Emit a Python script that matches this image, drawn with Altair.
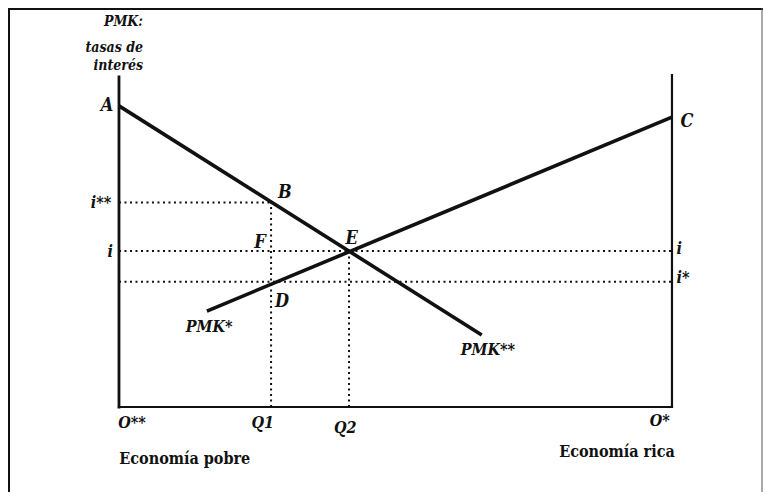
import altair as alt
import pandas as pd

# ---- data (x: capital, 0 = O**, 100 = O*; y: interest rate) ----
axis_x = [0, 0, 100]
axis_y = [0, 0, 0]
axis_x2 = [0, 100, 100]
axis_y2 = [99.4, 0, 100]
axis_w = [2.8, 2.2, 2.2]

curve_name = ["PMK**", "PMK**", "PMK*", "PMK*"]
curve_x = [0, 65.6, 15.9, 100]
curve_y = [90.7, 21.7, 28.9, 87.3]

guide_x = [0, 0, 0, 27.5, 41.6]
guide_x2 = [27.5, 100, 100, 27.5, 41.6]
guide_y = [61.6, 47.0, 37.7, 0, 0]
guide_y2 = [61.6, 47.0, 37.7, 61.6, 47.0]

title_text = ["PMK:", "tasas de", "interés"]
title_x = [4.34, 4.34, 4.34]
title_y = [115.9, 108.1, 102.7]

pt_text = ["A", "B", "C", "E", "F", "D"]
pt_x = [-2.17, 30.0, 102.7, 42.1, 25.5, 29.5]
pt_y = [90.66, 64.46, 85.84, 50.6, 49.4, 31.6]

lab_text = ["i**", "i", "i", "i*", "PMK*", "PMK**", "O**", "Q1", "Q2", "O*"]
lab_x = [-3.25, -1.6, 101.3, 102.0, 16.3, 66.7, 2.35, 26.0, 40.9, 97.8]
lab_y = [61.4, 46.7, 47.6, 38.9, 24.1, 17.2, -4.8, -4.8, -6.3, -4.2]

eco_text = ["Economía pobre", "Economía rica"]
eco_x = [11.9, 90.05]
eco_y = [-15.66, -13.55]

W, H = 755, 484
xs = alt.Scale(domain=[-20.07, 116.46], nice=False, zero=False)
ys = alt.Scale(domain=[-25.6, 120.18], nice=False, zero=False)
X = lambda f: alt.X(f, type="quantitative", scale=xs, axis=None)
Y = lambda f: alt.Y(f, type="quantitative", scale=ys, axis=None)
FONT = "DejaVu Serif Condensed, DejaVu Serif, serif"
INK = "#111111"

axes_df = pd.DataFrame({"x": axis_x, "y": axis_y, "x2": axis_x2, "y2": axis_y2, "w": axis_w})
axes = alt.Chart(axes_df).mark_rule(color=INK, strokeCap="square").encode(
    x=X("x"), y=Y("y"), x2="x2", y2="y2",
    strokeWidth=alt.StrokeWidth("w:Q", scale=None))

curves_df = pd.DataFrame({"name": curve_name, "x": curve_x, "y": curve_y})
curves = alt.Chart(curves_df).mark_line(color=INK, strokeWidth=3.6).encode(
    x=X("x"), y=Y("y"), detail="name:N")

guides_df = pd.DataFrame({"x": guide_x, "x2": guide_x2, "y": guide_y, "y2": guide_y2})
guides = alt.Chart(guides_df).mark_rule(color=INK, strokeWidth=2, strokeDash=[2, 3.5]).encode(
    x=X("x"), y=Y("y"), x2="x2", y2="y2")

frame = alt.Chart(pd.DataFrame({"k": [0]})).mark_rule(color=INK, strokeWidth=2)
frame_left = frame.encode(x=alt.value(1), y=alt.value(0), y2=alt.value(H))
frame_top = frame.encode(x=alt.value(0), x2=alt.value(W), y=alt.value(1))
frame_right = frame.mark_rule(color="#555555", strokeWidth=1).encode(
    x=alt.value(W - 1), y=alt.value(0), y2=alt.value(H))

title_df = pd.DataFrame({"t": title_text, "x": title_x, "y": title_y})
titles = alt.Chart(title_df).mark_text(
    font=FONT, fontSize=14, fontStyle="italic", fontWeight="bold",
    align="right", baseline="middle", color=INK).encode(x=X("x"), y=Y("y"), text="t:N")

pt_df = pd.DataFrame({"t": pt_text, "x": pt_x, "y": pt_y})
points = alt.Chart(pt_df).mark_text(
    font=FONT, fontSize=18, fontStyle="italic", fontWeight="bold",
    align="center", baseline="middle", color=INK).encode(x=X("x"), y=Y("y"), text="t:N")

lab_df = pd.DataFrame({"t": lab_text, "x": lab_x, "y": lab_y})
labels = alt.Chart(lab_df).mark_text(
    font=FONT, fontSize=16, fontStyle="italic", fontWeight="bold",
    align="center", baseline="middle", color=INK).encode(x=X("x"), y=Y("y"), text="t:N")

eco_df = pd.DataFrame({"t": eco_text, "x": eco_x, "y": eco_y})
eco = alt.Chart(eco_df).mark_text(
    font=FONT, fontSize=16, fontWeight="bold",
    align="center", baseline="middle", color=INK).encode(x=X("x"), y=Y("y"), text="t:N")

chart = alt.layer(
    frame_left, frame_top, frame_right, guides, axes, curves, titles, points, labels, eco
).properties(
    width=W, height=H, padding=0,
    autosize=alt.AutoSizeParams(type="none"),
    background="white",
).configure_view(stroke=None)

chart.save("out.html", embed_options={"renderer": "svg", "actions": False})
